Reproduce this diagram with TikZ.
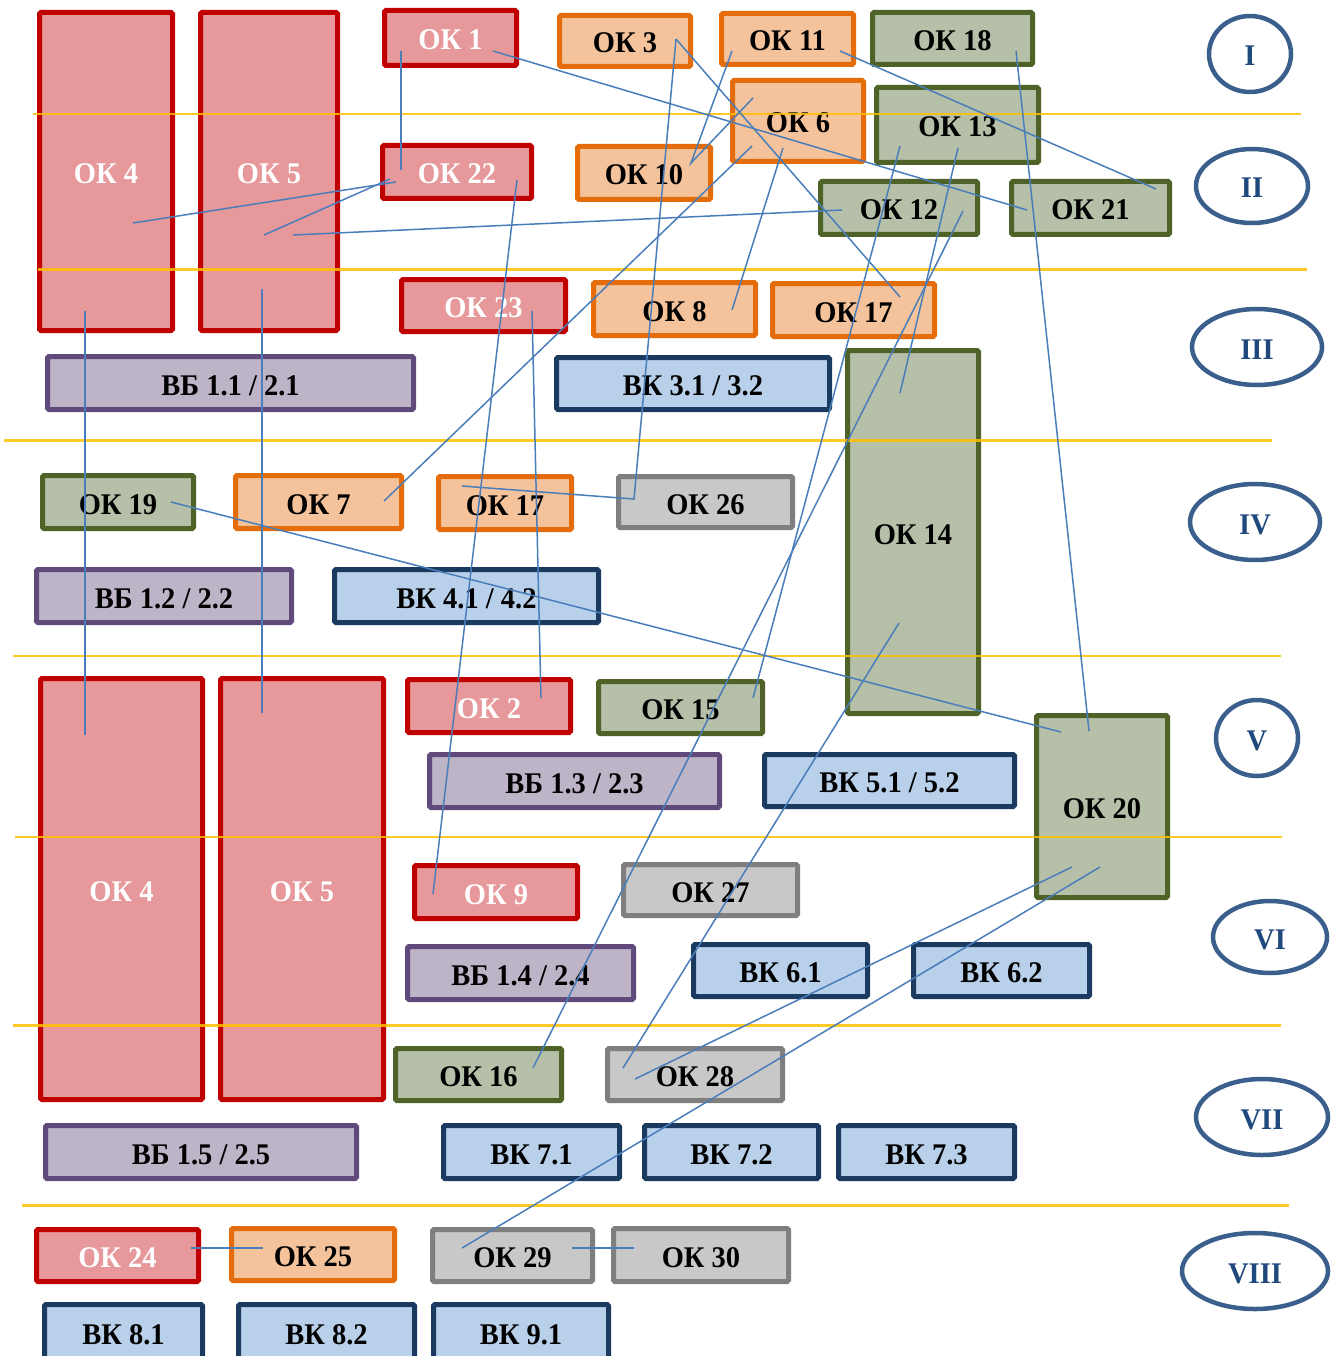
\documentclass[tikz,border=0pt]{standalone}
\usepackage{fontspec}
\setmainfont{Liberation Serif}[FakeStretch=0.95]
\usetikzlibrary{shapes.geometric}
\definecolor{redfill}{HTML}{E6989A}
\definecolor{redline}{HTML}{C00000}
\definecolor{orfill}{HTML}{F4C39B}
\definecolor{orline}{HTML}{E46C0A}
\definecolor{grfill}{HTML}{B6BFA8}
\definecolor{grline}{HTML}{4F6228}
\definecolor{gyfill}{HTML}{C8C8C8}
\definecolor{gyline}{HTML}{7F7F7F}
\definecolor{pufill}{HTML}{BEB4C8}
\definecolor{puline}{HTML}{604A7B}
\definecolor{blfill}{HTML}{B9D0EB}
\definecolor{blline}{HTML}{1B3A60}
\definecolor{connc}{HTML}{4A7EBB}
\definecolor{bandc}{HTML}{FFC000}
\definecolor{ellc}{HTML}{3A5F8D}
\definecolor{elltext}{HTML}{1F497D}
\newcommand{\kbox}[7]{%
  \pgfmathsetmacro\kcx{(#3+#5)/2}\pgfmathsetmacro\kcy{(#4+#6)/2}%
  \pgfmathsetmacro\kw{#5-#3-5}\pgfmathsetmacro\kh{#6-#4-5}%
  \node[#2, minimum width=\kw pt, minimum height=\kh pt] (#1) at (\kcx,\kcy) {#7};}
\newcommand{\kzone}[6]{%
  \node[zone, minimum width=#4pt, minimum height=#5pt] (#1) at (#2,#3) {#6};}
\begin{document}
\begin{tikzpicture}[x=1pt,y=-1pt,
  every node/.style={font=\fontsize{30}{36}\selectfont\bfseries, text height=24pt, text depth=0pt},
  kb/.style={draw, line width=5pt, inner sep=0pt, rounded corners=1.5pt},
  kred/.style={kb, draw=redline, fill=redfill, text=white},
  kor/.style={kb, draw=orline, fill=orfill},
  kgr/.style={kb, draw=grline, fill=grfill},
  kgy/.style={kb, draw=gyline, fill=gyfill},
  kpu/.style={kb, draw=puline, fill=pufill},
  kbl/.style={kb, draw=blline, fill=blfill},
  conn/.style={draw=connc, line width=1.5pt},
  band/.style={draw=bandc, line width=2.5pt, opacity=0.85},
  zone/.style={ellipse, draw=ellc, line width=4.5pt, fill=white, text=elltext, inner sep=0pt}]
\useasboundingbox (0,0) rectangle (1331,1356);
\clip (0,0) rectangle (1331,1356);
\fill[white] (0,0) rectangle (1331,1356);
% boxes
\kbox{ok4t}{kred}{37}{10}{175}{333}{ОК 4}
\kbox{ok5t}{kred}{198}{10}{340}{333}{ОК 5}
\kbox{ok1}{kred}{382}{8}{519}{68}{ОК 1}
\kbox{ok3}{kor}{557}{13}{693}{69}{ОК 3}
\kbox{ok11}{kor}{719}{11}{856}{67}{ОК 11}
\kbox{ok18}{kgr}{870}{10}{1035}{67}{ОК 18}
\kbox{ok6}{kor}{730}{78}{866}{164}{ОК 6}
\kbox{ok13}{kgr}{874}{85}{1041}{165}{ОК 13}
\kbox{ok22}{kred}{380}{143}{534}{201}{ОК 22}
\kbox{ok10}{kor}{575}{144}{713}{202}{ОК 10}
\kbox{ok12}{kgr}{818}{179}{980}{237}{ОК 12}
\kbox{ok21}{kgr}{1009}{179}{1172}{237}{ОК 21}
\kbox{ok23}{kred}{399}{277}{568}{334}{ОК 23}
\kbox{ok8}{kor}{591}{280}{758}{338}{ОК 8}
\kbox{ok17a}{kor}{770}{281}{937}{339}{ОК 17}
\kbox{vb11}{kpu}{45}{354}{416}{412}{ВБ 1.1 / 2.1}
\kbox{vk31}{kbl}{554}{355}{832}{412}{ВК 3.1 / 3.2}
\kbox{ok14}{kgr}{845}{348}{981}{716}{ОК 14}
\kbox{ok19}{kgr}{40}{473}{196}{531}{ОК 19}
\kbox{ok7}{kor}{233}{473}{404}{531}{ОК 7}
\kbox{ok17b}{kor}{436}{474}{574}{532}{ОК 17}
\kbox{ok26}{kgy}{616}{474}{795}{530}{ОК 26}
\kbox{vb12}{kpu}{34}{567}{294}{625}{ВБ 1.2 / 2.2}
\kbox{vk41}{kbl}{332}{567}{601}{625}{ВК 4.1 / 4.2}
\kbox{ok4b}{kred}{38}{676}{205}{1102}{ОК 4}
\kbox{ok5b}{kred}{218}{676}{386}{1102}{ОК 5}
\kbox{ok2}{kred}{405}{677}{573}{735}{ОК 2}
\kbox{ok15}{kgr}{596}{679}{765}{736}{ОК 15}
\kbox{vb13}{kpu}{427}{752}{722}{810}{ВБ 1.3 / 2.3}
\kbox{vk51}{kbl}{762}{752}{1017}{809}{ВК 5.1 / 5.2}
\kbox{ok20}{kgr}{1034}{713}{1170}{900}{ОК 20}
\kbox{ok9}{kred}{412}{863}{580}{921}{ОК 9}
\kbox{ok27}{kgy}{621}{862}{800}{918}{ОК 27}
\kbox{vb14}{kpu}{405}{944}{636}{1002}{ВБ 1.4 / 2.4}
\kbox{vk61}{kbl}{691}{942}{870}{999}{ВК 6.1}
\kbox{vk62}{kbl}{911}{942}{1092}{999}{ВК 6.2}
\kbox{ok16}{kgr}{393}{1046}{564}{1103}{ОК 16}
\kbox{ok28}{kgy}{605}{1046}{785}{1103}{ОК 28}
\kbox{vb15}{kpu}{43}{1123}{359}{1181}{ВБ 1.5 / 2.5}
\kbox{vk71}{kbl}{441}{1123}{622}{1181}{ВК 7.1}
\kbox{vk72}{kbl}{642}{1123}{821}{1181}{ВК 7.2}
\kbox{vk73}{kbl}{836}{1123}{1017}{1181}{ВК 7.3}
\kbox{ok24}{kred}{34}{1227}{201}{1284}{ОК 24}
\kbox{ok25}{kor}{229}{1226}{397}{1283}{ОК 25}
\kbox{ok29}{kgy}{430}{1227}{595}{1284}{ОК 29}
\kbox{ok30}{kgy}{611}{1226}{791}{1284}{ОК 30}
\kbox{vk81}{kbl}{42}{1302}{205}{1362}{ВК 8.1}
\kbox{vk82}{kbl}{236}{1302}{417}{1362}{ВК 8.2}
\kbox{vk91}{kbl}{431}{1302}{611}{1362}{ВК 9.1}
% bands
\draw[band] (33,114) -- (1301,114);
\draw[band] (38,269.5) -- (1307,269.5);
\draw[band] (4,440.5) -- (1272,440.5);
\draw[band] (13,656) -- (1281,656);
\draw[band] (15,837) -- (1282,837);
\draw[band] (13,1025.5) -- (1281,1025.5);
\draw[band] (22,1205.5) -- (1289,1205.5);
% connector end points
\coordinate (a1) at (401,51);   \coordinate (a2) at (401,170);
\coordinate (b1) at (493,51);   \coordinate (b2) at (1027,210);
\coordinate (c1) at (133,223);  \coordinate (c2) at (396,182);
\coordinate (d1) at (264,235);  \coordinate (d2) at (390,179);
\coordinate (e1) at (293,235);  \coordinate (e2) at (842,210);
\coordinate (f1) at (517,180);  \coordinate (f2) at (433,894);
\coordinate (g1) at (532,311);  \coordinate (g2) at (541,698);
\coordinate (h1) at (85,311);   \coordinate (h2) at (85,735);
\coordinate (i1) at (262,289);  \coordinate (i2) at (262,713);
\coordinate (j1) at (676,39);   \coordinate (j2) at (634,499);  \coordinate (j3) at (462,486);
\coordinate (k2) at (900,297);
\coordinate (l1) at (732,51);   \coordinate (l2) at (691,163);
\coordinate (m1) at (753,98);
\coordinate (n1) at (752,146);  \coordinate (n2) at (384,501);
\coordinate (o1) at (783,148);  \coordinate (o2) at (732,310);
\coordinate (q1) at (840,51);   \coordinate (q2) at (1156,189);
\coordinate (r1) at (1016,51);  \coordinate (r2) at (1089,731);
\coordinate (s1) at (900,146);  \coordinate (s2) at (753,698);
\coordinate (t1) at (958,148);  \coordinate (t2) at (900,393);
\coordinate (u1) at (963,211);  \coordinate (u2) at (533,1068);
\coordinate (v1) at (899,623);  \coordinate (v2) at (623,1068);
\coordinate (w1) at (171,502);  \coordinate (w2) at (1061,732);
\coordinate (x1) at (1072,867); \coordinate (x2) at (635,1079);
\coordinate (y1) at (1100,867); \coordinate (y2) at (462,1248);
\coordinate (z1) at (191,1248); \coordinate (z2) at (263,1248);
\coordinate (zz1) at (572,1248); \coordinate (zz2) at (634,1248);
% connectors
\draw[conn] (a1) -- (a2);
\draw[conn] (b1) -- (b2);
\draw[conn] (c1) -- (c2);
\draw[conn] (d1) -- (d2);
\draw[conn] (e1) -- (e2);
\draw[conn] (f1) -- (f2);
\draw[conn] (g1) -- (g2);
\draw[conn] (h1) -- (h2);
\draw[conn] (i1) -- (i2);
\draw[conn] (j1) -- (j2) -- (j3);
\draw[conn] (j1) -- (k2);
\draw[conn] (l1) -- (l2) -- (m1);
\draw[conn] (n1) -- (n2);
\draw[conn] (o1) -- (o2);
\draw[conn] (q1) -- (q2);
\draw[conn] (r1) -- (r2);
\draw[conn] (s1) -- (s2);
\draw[conn] (t1) -- (t2);
\draw[conn] (u1) -- (u2);
\draw[conn] (v1) -- (v2);
\draw[conn] (w1) -- (w2);
\draw[conn] (x1) -- (x2);
\draw[conn] (y1) -- (y2);
\draw[conn] (z1) -- (z2);
\draw[conn] (zz1) -- (zz2);
% zones
\kzone{z1n}{1250}{54}{82}{76}{I}
\kzone{z2n}{1252}{186}{112}{74}{II}
\kzone{z3n}{1257}{347}{130}{76}{III}
\kzone{z4n}{1255}{522}{130}{76}{IV}
\kzone{z5n}{1257}{738}{82}{76}{V}
\kzone{z6n}{1270}{937}{114}{72}{VI}
\kzone{z7n}{1262}{1117}{132}{76}{VII}
\kzone{z8n}{1255}{1271}{146}{76}{VIII}
\end{tikzpicture}
\end{document}
